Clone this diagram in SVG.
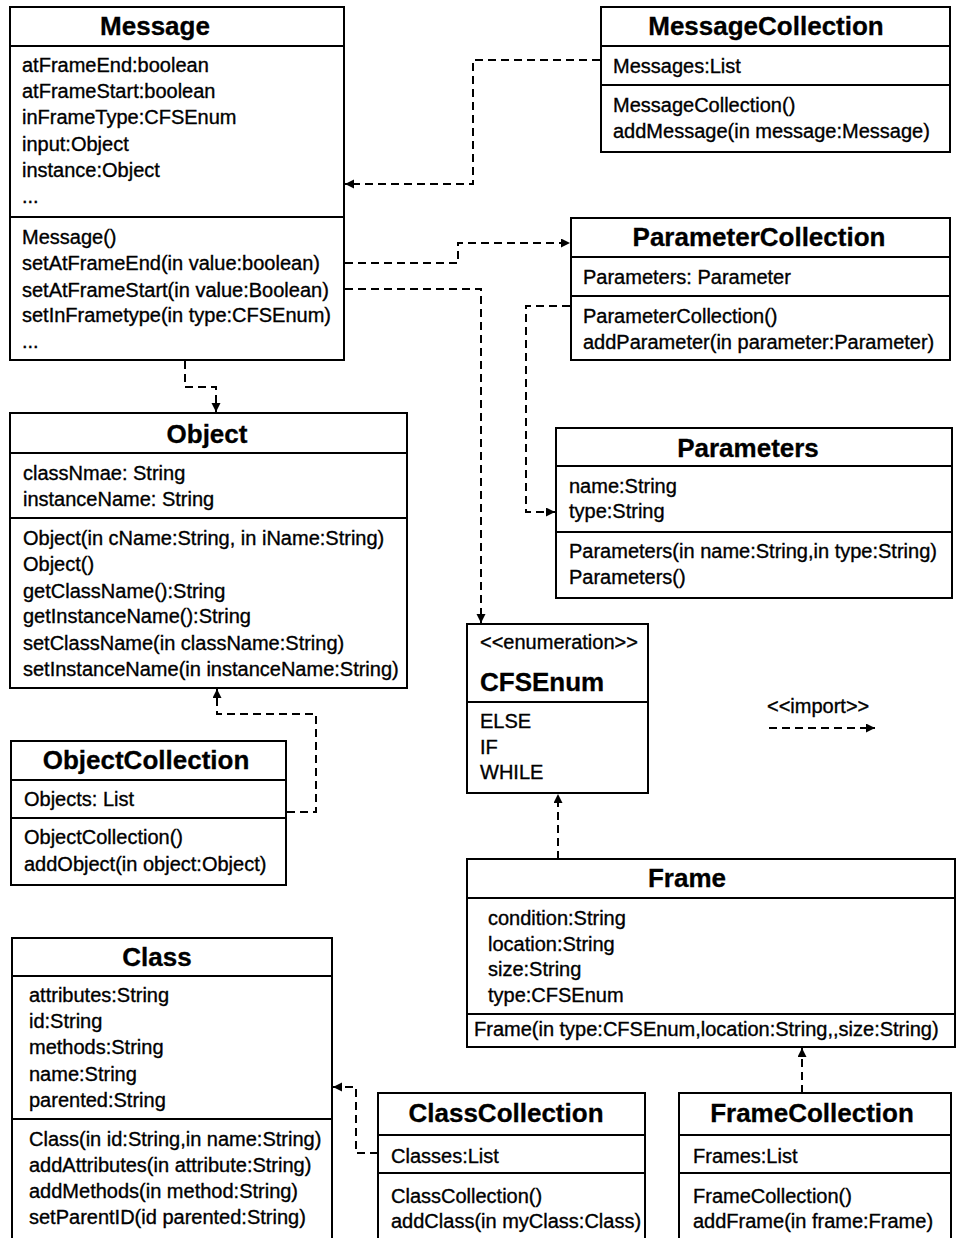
<svg xmlns="http://www.w3.org/2000/svg" width="956" height="1238" viewBox="0 0 956 1238">
  <defs>
    <style>
      .box { fill: #fff; stroke: #000; stroke-width: 2; }
      .sep { stroke: #000; stroke-width: 2; }
      .t { font-family: "Liberation Sans", Arial, sans-serif; font-size: 20px; fill: #000; stroke: #000; stroke-width: 0.35; }
      .h { font-family: "Liberation Sans", Arial, sans-serif; font-size: 26px; font-weight: bold; fill: #000; stroke: #000; stroke-width: 0.3; text-anchor: middle; }
      .hl { font-family: "Liberation Sans", Arial, sans-serif; font-size: 26px; font-weight: bold; fill: #000; stroke: #000; stroke-width: 0.3; }
      .dep { fill: none; stroke: #000; stroke-width: 2; stroke-dasharray: 8 5; marker-end: url(#arrow); }
    </style>
    <marker id="arrow" markerUnits="userSpaceOnUse" markerWidth="10" markerHeight="10" refX="9" refY="4.5" orient="auto">
      <path d="M0,0 L9,4.5 L0,9 z" fill="#000"/>
    </marker>
  </defs>
  <rect width="956" height="1238" fill="#fff"/>

  <!-- dependency connectors -->
  <g id="connectors">
    <path class="dep" d="M600,60 H473 V184 H345"/>
    <path class="dep" d="M345,263 H458 V243 H570"/>
    <path class="dep" d="M345,289 H481 V623"/>
    <path class="dep" d="M570,306 H526 V512 H555"/>
    <path class="dep" d="M185,361 V387 H216 V412"/>
    <path class="dep" d="M287,812 H316 V714 H217 V689"/>
    <path class="dep" d="M558,859 V794"/>
    <path class="dep" d="M802,1093 V1048"/>
    <path class="dep" d="M378,1153 H356 V1087 H333"/>
  </g>

  <g id="Message">
    <rect class="box" x="10" y="7" width="334" height="353"/>
    <line class="sep" x1="10" y1="46" x2="344" y2="46"/>
    <line class="sep" x1="10" y1="217" x2="344" y2="217"/>
    <text class="h" x="155" y="35">Message</text>
    <text class="t" x="22" y="72">atFrameEnd:boolean</text>
    <text class="t" x="22" y="98">atFrameStart:boolean</text>
    <text class="t" x="22" y="124">inFrameType:CFSEnum</text>
    <text class="t" x="22" y="151">input:Object</text>
    <text class="t" x="22" y="177">instance:Object</text>
    <text class="t" x="22" y="203">...</text>
    <text class="t" x="22" y="244">Message()</text>
    <text class="t" x="22" y="270">setAtFrameEnd(in value:boolean)</text>
    <text class="t" x="22" y="297">setAtFrameStart(in value:Boolean)</text>
    <text class="t" x="22" y="322">setInFrametype(in type:CFSEnum)</text>
    <text class="t" x="22" y="348">...</text>
  </g>

  <g id="MessageCollection">
    <rect class="box" x="601" y="7" width="349" height="145"/>
    <line class="sep" x1="601" y1="46" x2="950" y2="46"/>
    <line class="sep" x1="601" y1="85" x2="950" y2="85"/>
    <text class="h" x="766" y="35">MessageCollection</text>
    <text class="t" x="613" y="73">Messages:List</text>
    <text class="t" x="613" y="112">MessageCollection()</text>
    <text class="t" x="613" y="138">addMessage(in message:Message)</text>
  </g>

  <g id="ParameterCollection">
    <rect class="box" x="571" y="218" width="379" height="142"/>
    <line class="sep" x1="571" y1="257" x2="950" y2="257"/>
    <line class="sep" x1="571" y1="296" x2="950" y2="296"/>
    <text class="h" x="759" y="246">ParameterCollection</text>
    <text class="t" x="583" y="284">Parameters: Parameter</text>
    <text class="t" x="583" y="323">ParameterCollection()</text>
    <text class="t" x="583" y="349">addParameter(in parameter:Parameter)</text>
  </g>

  <g id="Object">
    <rect class="box" x="10" y="413" width="397" height="275"/>
    <line class="sep" x1="10" y1="453" x2="407" y2="453"/>
    <line class="sep" x1="10" y1="518" x2="407" y2="518"/>
    <text class="h" x="207" y="443">Object</text>
    <text class="t" x="23" y="480">classNmae: String</text>
    <text class="t" x="23" y="506">instanceName: String</text>
    <text class="t" x="23" y="545">Object(in cName:String, in iName:String)</text>
    <text class="t" x="23" y="571">Object()</text>
    <text class="t" x="23" y="598">getClassName():String</text>
    <text class="t" x="23" y="623">getInstanceName():String</text>
    <text class="t" x="23" y="650">setClassName(in className:String)</text>
    <text class="t" x="23" y="676">setInstanceName(in instanceName:String)</text>
  </g>

  <g id="Parameters">
    <rect class="box" x="556" y="428" width="396" height="170"/>
    <line class="sep" x1="556" y1="466" x2="952" y2="466"/>
    <line class="sep" x1="556" y1="532" x2="952" y2="532"/>
    <text class="h" x="748" y="457">Parameters</text>
    <text class="t" x="569" y="493">name:String</text>
    <text class="t" x="569" y="518">type:String</text>
    <text class="t" x="569" y="558">Parameters(in name:String,in type:String)</text>
    <text class="t" x="569" y="584">Parameters()</text>
  </g>

  <g id="CFSEnum">
    <rect class="box" x="467" y="624" width="181" height="169"/>
    <line class="sep" x1="467" y1="702" x2="648" y2="702"/>
    <text class="t" x="480" y="649">&lt;&lt;enumeration&gt;&gt;</text>
    <text class="hl" x="480" y="691">CFSEnum</text>
    <text class="t" x="480" y="728">ELSE</text>
    <text class="t" x="480" y="754">IF</text>
    <text class="t" x="480" y="779">WHILE</text>
  </g>

  <g id="legend">
    <text class="t" x="767" y="713">&lt;&lt;import&gt;&gt;</text>
    <path class="dep" d="M769,728 H875"/>
  </g>

  <g id="ObjectCollection">
    <rect class="box" x="11" y="741" width="275" height="144"/>
    <line class="sep" x1="11" y1="780" x2="286" y2="780"/>
    <line class="sep" x1="11" y1="818" x2="286" y2="818"/>
    <text class="h" x="146" y="769">ObjectCollection</text>
    <text class="t" x="24" y="806">Objects: List</text>
    <text class="t" x="24" y="844">ObjectCollection()</text>
    <text class="t" x="24" y="871">addObject(in object:Object)</text>
  </g>

  <g id="Frame">
    <rect class="box" x="467" y="859" width="488" height="188"/>
    <line class="sep" x1="467" y1="898" x2="955" y2="898"/>
    <line class="sep" x1="467" y1="1014" x2="955" y2="1014"/>
    <text class="h" x="687" y="887">Frame</text>
    <text class="t" x="488" y="925">condition:String</text>
    <text class="t" x="488" y="951">location:String</text>
    <text class="t" x="488" y="976">size:String</text>
    <text class="t" x="488" y="1002">type:CFSEnum</text>
    <text class="t" x="474" y="1036">Frame(in type:CFSEnum,location:String,,size:String)</text>
  </g>

  <g id="Class">
    <rect class="box" x="12" y="938" width="320" height="320"/>
    <line class="sep" x1="12" y1="976" x2="332" y2="976"/>
    <line class="sep" x1="12" y1="1119" x2="332" y2="1119"/>
    <text class="h" x="157" y="966">Class</text>
    <text class="t" x="29" y="1002">attributes:String</text>
    <text class="t" x="29" y="1028">id:String</text>
    <text class="t" x="29" y="1054">methods:String</text>
    <text class="t" x="29" y="1081">name:String</text>
    <text class="t" x="29" y="1107">parented:String</text>
    <text class="t" x="29" y="1146">Class(in id:String,in name:String)</text>
    <text class="t" x="29" y="1172">addAttributes(in attribute:String)</text>
    <text class="t" x="29" y="1198">addMethods(in method:String)</text>
    <text class="t" x="29" y="1224">setParentID(id parented:String)</text>
  </g>

  <g id="ClassCollection">
    <rect class="box" x="378" y="1093" width="267" height="165"/>
    <line class="sep" x1="378" y1="1135" x2="645" y2="1135"/>
    <line class="sep" x1="378" y1="1173" x2="645" y2="1173"/>
    <text class="h" x="506" y="1122">ClassCollection</text>
    <text class="t" x="391" y="1163">Classes:List</text>
    <text class="t" x="391" y="1203">ClassCollection()</text>
    <text class="t" x="391" y="1228">addClass(in myClass:Class)</text>
  </g>

  <g id="FrameCollection">
    <rect class="box" x="679" y="1093" width="272" height="165"/>
    <line class="sep" x1="679" y1="1135" x2="951" y2="1135"/>
    <line class="sep" x1="679" y1="1173" x2="951" y2="1173"/>
    <text class="h" x="812" y="1122">FrameCollection</text>
    <text class="t" x="693" y="1163">Frames:List</text>
    <text class="t" x="693" y="1203">FrameCollection()</text>
    <text class="t" x="693" y="1228">addFrame(in frame:Frame)</text>
  </g>
</svg>
